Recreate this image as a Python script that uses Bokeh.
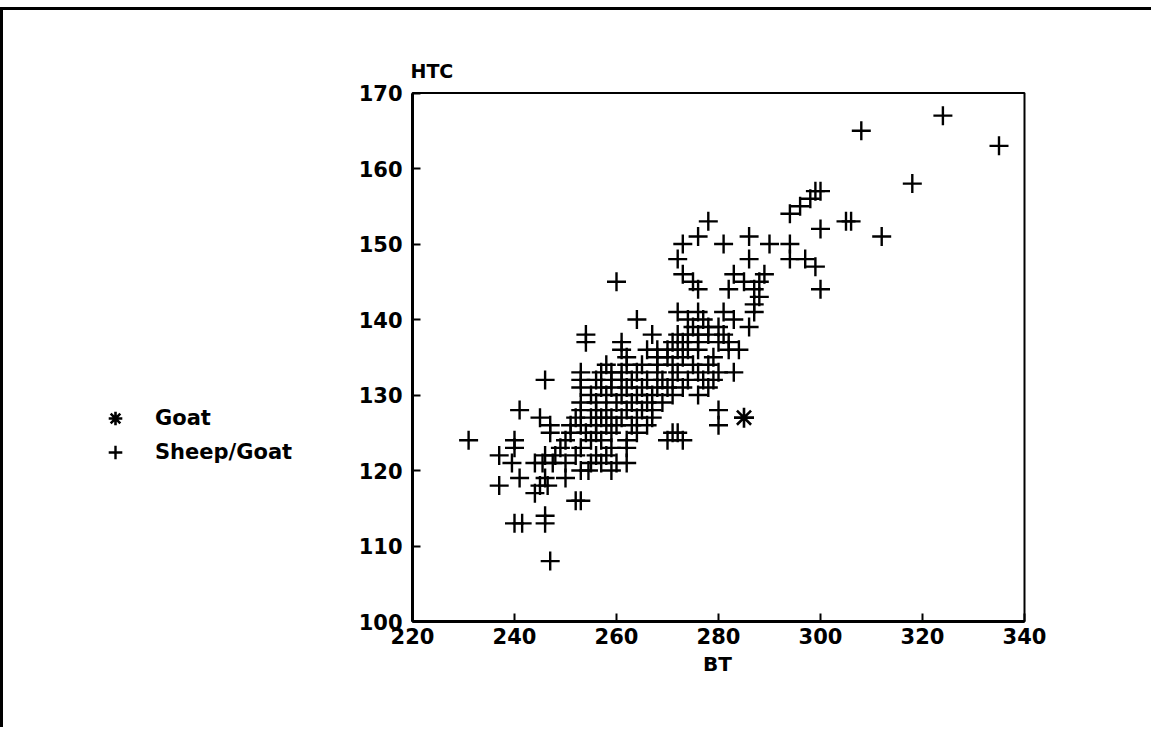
from bokeh.plotting import figure
from bokeh.models import Range1d, Legend, LegendItem, BoxAnnotation, Label
from bokeh.embed import file_html
from bokeh.resources import INLINE

x_ticks = [220, 240, 260, 280, 300, 320, 340]
y_ticks = [100, 110, 120, 130, 140, 150, 160, 170]

goat_bt = [285]
goat_htc = [127]

sheep_goat_bt = [
    247,
    240, 241.5, 246,
    246,
    252, 253,
    244,
    237, 245, 246.5,
    241, 246, 250,
    253, 254.5, 259,
    239.5, 244, 245.5, 247.5, 250, 255, 257, 260, 262,
    237, 246, 248, 252, 256, 258,
    240, 249, 253, 259, 262,
    231, 240, 250, 255, 257, 262, 270, 273,
    247, 251, 254, 256, 259, 264, 271, 272,
    247, 251, 253, 256, 258, 260, 263, 266, 280,
    245, 252, 255, 257, 259, 261, 264, 267,
    241, 253, 256, 258, 262, 265, 267, 280,
    253, 256, 260, 263, 266, 269,
    255, 258, 261, 264, 267, 271, 276,
    253, 257, 259, 262, 265, 268, 270, 273, 278,
    246, 253, 256, 259, 261, 263, 266, 269, 271, 274, 277, 279,
    253, 257, 259, 261, 264, 268, 272, 276, 280, 283,
    258, 262, 265, 268, 271, 275, 278,
    262, 268, 270, 273, 279,
    261, 266, 268, 270, 272, 274, 276, 282, 284,
    254, 261, 271, 273, 276, 280, 282,
    254, 267, 272, 274, 276, 278, 281,
    275, 278, 280, 286,
    264, 274, 277, 283,
    272, 276, 281, 287,
    287,
    288,
    276, 282, 287, 300,
    260, 275, 285, 288,
    273, 283, 289,
    299,
    272, 286, 294, 297,
    273, 281, 290, 294,
    276, 286, 312,
    300,
    278, 305, 306,
    294,
    296,
    298,
    299, 300,
    318,
    335,
    308,
    324,
]

sheep_goat_htc = [
    108,
    113, 113, 113,
    114,
    116, 116,
    117,
    118, 118, 118,
    119, 119, 119,
    120, 120, 120,
    121, 121, 121, 121, 121, 121, 121, 121, 121,
    122, 122, 122, 122, 122, 122,
    123, 123, 123, 123, 123,
    124, 124, 124, 124, 124, 124, 124, 124,
    125, 125, 125, 125, 125, 125, 125, 125,
    126, 126, 126, 126, 126, 126, 126, 126, 126,
    127, 127, 127, 127, 127, 127, 127, 127,
    128, 128, 128, 128, 128, 128, 128, 128,
    129, 129, 129, 129, 129, 129,
    130, 130, 130, 130, 130, 130, 130,
    131, 131, 131, 131, 131, 131, 131, 131, 131,
    132, 132, 132, 132, 132, 132, 132, 132, 132, 132, 132, 132,
    133, 133, 133, 133, 133, 133, 133, 133, 133, 133,
    134, 134, 134, 134, 134, 134, 134,
    135, 135, 135, 135, 135,
    136, 136, 136, 136, 136, 136, 136, 136, 136,
    137, 137, 137, 137, 137, 137, 137,
    138, 138, 138, 138, 138, 138, 138,
    139, 139, 139, 139,
    140, 140, 140, 140,
    141, 141, 141, 141,
    142,
    143,
    144, 144, 144, 144,
    145, 145, 145, 145,
    146, 146, 146,
    147,
    148, 148, 148, 148,
    150, 150, 150, 150,
    151, 151, 151,
    152,
    153, 153, 153,
    154,
    155,
    156,
    157, 157,
    158,
    163,
    165,
    167,
]

FONT = "DejaVu Sans"

X0, X1 = x_ticks[0], x_ticks[-1]
Y0, Y1 = y_ticks[0], y_ticks[-1]

# canvas origin on the page and margins (pixels)
OX, OY = 3, 10
W, H = 1151, 720
ML, MR, MT, MB = 80, 20, 40, 40
frame_left = OX + ML
frame_bottom = OY + H - MB
# reference scale: x=220 at px 412, 5.1 px/unit; y=100 at px 621, 7.55 px/unit
x_start = X0 - (412 - frame_left) / 5.1
x_end = x_start + (W - ML - MR) / 5.1
y_start = Y0 - (frame_bottom - 621) / 7.55
y_end = y_start + (H - MT - MB) / 7.55

p = figure(width=W, height=H,
           x_range=Range1d(x_start, x_end), y_range=Range1d(y_start, y_end),
           output_backend="svg", toolbar_location=None,
           min_border_left=ML, min_border_right=MR,
           min_border_top=MT, min_border_bottom=MB)

p.styles = {"border-left": "3px solid black", "border-top": "3px solid black",
            "margin-top": "7px"}

p.xgrid.grid_line_color = None
p.ygrid.grid_line_color = None
p.outline_line_color = None
p.background_fill_color = "white"
p.border_fill_color = "white"

for ax in (p.xaxis[0], p.yaxis[0]):
    ax.axis_line_width = 3
    ax.axis_line_color = "black"
    ax.major_tick_in = 8
    ax.major_tick_out = 0
    ax.major_tick_line_width = 2
    ax.minor_tick_line_color = None
    ax.major_label_text_font = FONT
    ax.major_label_text_font_style = "bold"
    ax.major_label_text_font_size = "21px"
    ax.major_label_text_color = "black"

p.xaxis.ticker = x_ticks
p.yaxis.ticker = y_ticks
p.xaxis.bounds = (X0, X1)
p.yaxis.bounds = (Y0, Y1)
p.xaxis.fixed_location = Y0
p.yaxis.fixed_location = X0
p.xaxis.major_label_standoff = 6
p.yaxis.major_label_standoff = 10

# plot box (top and right edges)
p.add_layout(BoxAnnotation(left=X0, right=X1, bottom=Y0, top=Y1,
                           fill_color=None, fill_alpha=0,
                           line_color="black", line_width=2, line_alpha=1))

p.add_layout(Label(x=X0, y=Y1, text="HTC", x_offset=-2, y_offset=22,
                   text_baseline="middle", text_align="left", text_font=FONT,
                   text_font_style="bold", text_font_size="19px",
                   text_color="black"))
p.add_layout(Label(x=(X0 + X1) / 2, y=Y0, text="BT", x_offset=-1, y_offset=-42,
                   text_baseline="middle", text_align="center", text_font=FONT,
                   text_font_style="bold", text_font_size="20px",
                   text_color="black"))

r_sheep = p.scatter(sheep_goat_bt, sheep_goat_htc, marker="cross", size=19,
                    line_color="black", line_width=2.4)
r_goat = p.scatter(goat_bt, goat_htc, marker="asterisk", size=20,
                   line_color="black", line_width=2.6)

legend = Legend(items=[LegendItem(label="Goat", renderers=[r_goat]),
                       LegendItem(label="Sheep/Goat", renderers=[r_sheep])],
                location=(15, frame_bottom - 469), orientation="vertical",
                glyph_width=34, glyph_height=34, label_height=34,
                label_standoff=23, spacing=0, padding=10,
                border_line_color=None, background_fill_alpha=0,
                label_text_font=FONT, label_text_font_style="bold",
                label_text_font_size="21px", label_text_color="black")
p.add_layout(legend)

open("out.html", "w").write(file_html(p, INLINE))
